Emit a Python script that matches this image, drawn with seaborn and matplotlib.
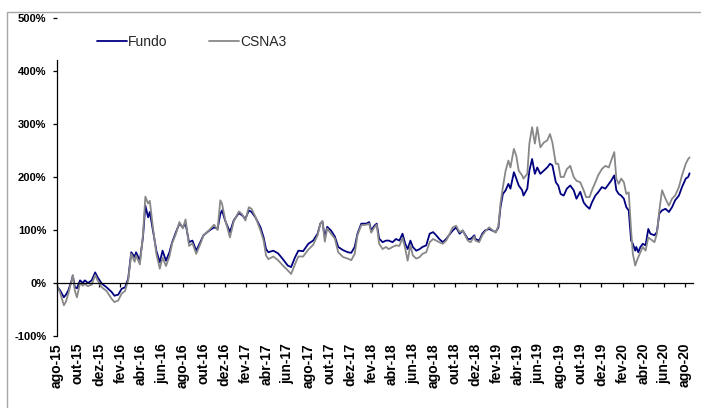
import pandas as pd
import matplotlib
matplotlib.use('Agg')
import matplotlib.pyplot as plt
import matplotlib.dates as mdates
import seaborn as sns
from matplotlib.ticker import FuncFormatter, MultipleLocator
from matplotlib.patches import Rectangle

sns.set_theme(style="ticks")
plt.rcParams['font.family'] = ['Liberation Sans', 'DejaVu Sans']
plt.rcParams['font.weight'] = 'bold'

# datas (aprox. semanal)
datas = [
    '2015-08-03', '2015-08-10', '2015-08-21', '2015-08-27', '2015-09-03', '2015-09-14', '2015-09-16', '2015-09-22', '2015-09-28', '2015-10-07',
    '2015-10-15', '2015-10-21', '2015-10-30', '2015-11-10', '2015-11-20', '2015-11-27', '2015-12-09', '2015-12-23', '2016-01-07', '2016-01-15',
    '2016-01-26', '2016-02-05', '2016-02-15', '2016-02-24', '2016-03-04', '2016-03-14', '2016-03-18', '2016-03-29', '2016-04-07', '2016-04-14',
    '2016-04-22', '2016-04-27', '2016-05-06', '2016-05-16', '2016-05-26', '2016-06-03', '2016-06-13', '2016-06-23', '2016-07-01', '2016-07-12',
    '2016-07-22', '2016-08-01', '2016-08-09', '2016-08-19', '2016-08-29', '2016-09-09', '2016-09-23', '2016-09-30', '2016-10-17', '2016-10-31',
    '2016-11-10', '2016-11-18', '2016-11-23', '2016-12-02', '2016-12-16', '2016-12-27', '2017-01-11', '2017-01-20', '2017-01-30', '2017-02-09',
    '2017-02-17', '2017-02-28', '2017-03-15', '2017-03-24', '2017-03-31', '2017-04-07', '2017-04-21', '2017-05-05', '2017-05-19', '2017-06-02',
    '2017-06-12', '2017-06-23', '2017-07-03', '2017-07-17', '2017-08-01', '2017-08-15', '2017-08-28', '2017-09-05', '2017-09-11', '2017-09-18',
    '2017-09-25', '2017-10-06', '2017-10-17', '2017-10-27', '2017-11-10', '2017-11-24', '2017-12-04', '2017-12-14', '2017-12-22', '2018-01-02',
    '2018-01-17', '2018-01-25', '2018-01-31', '2018-02-09', '2018-02-16', '2018-02-23', '2018-03-05', '2018-03-15', '2018-03-23', '2018-04-03',
    '2018-04-13', '2018-04-23', '2018-05-02', '2018-05-10', '2018-05-17', '2018-05-25', '2018-06-01', '2018-06-11', '2018-06-21', '2018-06-29',
    '2018-07-10', '2018-07-20', '2018-07-30', '2018-08-08', '2018-08-17', '2018-08-27', '2018-09-06', '2018-09-14', '2018-09-25', '2018-10-05',
    '2018-10-15', '2018-10-24', '2018-11-08', '2018-11-16', '2018-11-27', '2018-11-30', '2018-12-11', '2018-12-20', '2018-12-28', '2019-01-09',
    '2019-01-18', '2019-01-28', '2019-02-05', '2019-02-11', '2019-02-18', '2019-02-26', '2019-03-06', '2019-03-12', '2019-03-22', '2019-03-29',
    '2019-04-05', '2019-04-15', '2019-04-19', '2019-04-30', '2019-05-06', '2019-05-14', '2019-05-22', '2019-05-29', '2019-06-07', '2019-06-17',
    '2019-06-27', '2019-07-05', '2019-07-12', '2019-07-22', '2019-07-29', '2019-08-05', '2019-08-14', '2019-08-23', '2019-09-02', '2019-09-12',
    '2019-09-20', '2019-10-01', '2019-10-11', '2019-10-18', '2019-10-28', '2019-11-04', '2019-11-14', '2019-11-22', '2019-12-03', '2019-12-13',
    '2019-12-23', '2019-12-30', '2020-01-08', '2020-01-14', '2020-01-21', '2020-01-28', '2020-02-05', '2020-02-12', '2020-02-19', '2020-02-26',
    '2020-03-02', '2020-03-09', '2020-03-12', '2020-03-18', '2020-03-24', '2020-03-31', '2020-04-08', '2020-04-16', '2020-04-22', '2020-05-04',
    '2020-05-11', '2020-05-18', '2020-05-26', '2020-06-05', '2020-06-15', '2020-06-24', '2020-07-03', '2020-07-14', '2020-07-23', '2020-08-03',
    '2020-08-10', '2020-08-14',
]

# retorno acumulado (%)
fundo = [
    -8, -14, -27, -22, -14, 8, 14, -8, -10, 5,
    0, 5, 0, 5, 20, 11, -1, -8, -17, -24,
    -22, -11, -8, 8, 58, 49, 58, 42, 86, 146,
    124, 134, 99, 61, 39, 61, 42, 58, 77, 96,
    112, 105, 112, 77, 80, 61, 80, 90, 99, 105,
    102, 130, 137, 118, 96, 118, 132, 128, 121, 137,
    134, 124, 105, 86, 64, 58, 61, 56, 45, 33,
    30, 48, 61, 60, 74, 80, 93, 112, 116, 86,
    106, 99, 88, 68, 62, 58, 57, 68, 93, 112,
    112, 115, 99, 108, 112, 84, 77, 80, 80, 77,
    83, 80, 93, 74, 64, 80, 68, 61, 64, 68,
    71, 93, 96, 90, 83, 77, 83, 90, 99, 105,
    93, 99, 83, 83, 90, 83, 80, 93, 99, 102,
    99, 96, 105, 143, 168, 175, 187, 178, 209, 197,
    184, 175, 165, 178, 212, 234, 206, 218, 206, 212,
    218, 225, 222, 190, 184, 168, 165, 178, 184, 175,
    159, 172, 152, 146, 140, 152, 165, 171, 181, 178,
    187, 193, 203, 175, 168, 165, 159, 143, 137, 80,
    74, 61, 68, 58, 68, 74, 71, 102, 93, 90,
    96, 131, 137, 140, 134, 143, 156, 165, 181, 197,
    200, 207,
]

csna3 = [
    -8, -18, -42, -35, -20, 8, 15, -15, -27, 0,
    -5, -2, -6, -3, 15, 5, -8, -15, -30, -36,
    -33, -20, -15, 5, 55, 40, 52, 35, 90, 163,
    150, 155, 105, 55, 27, 48, 32, 50, 75, 93,
    115, 103, 120, 70, 75, 55, 77, 90, 100, 110,
    100, 156, 150, 120, 86, 116, 135, 130, 118, 143,
    140, 125, 99, 80, 52, 45, 50, 43, 33, 24,
    17, 35, 50, 50, 63, 72, 90, 112, 117, 78,
    103, 93, 84, 58, 49, 46, 43, 55, 90, 109,
    110, 112, 95, 105, 110, 74, 64, 68, 64, 68,
    71, 70, 85, 65, 42, 72, 52, 46, 49, 55,
    58, 77, 83, 80, 77, 74, 80, 90, 105, 108,
    96, 99, 80, 77, 88, 80, 77, 90, 97, 105,
    100, 95, 108, 150, 181, 212, 231, 218, 253, 240,
    212, 203, 197, 206, 263, 294, 263, 294, 256, 265,
    269, 281, 265, 225, 225, 200, 200, 215, 221, 200,
    193, 190, 175, 162, 162, 175, 190, 203, 215, 221,
    218, 231, 247, 197, 187, 197, 190, 168, 171, 99,
    55, 33, 39, 49, 58, 68, 61, 86, 83, 77,
    93, 137, 175, 159, 146, 159, 165, 181, 203, 225,
    234, 237,
]

series = ['Fundo', 'CSNA3']
cores = {'Fundo': '#000080', 'CSNA3': '#888888'}
meses = ['jan', 'fev', 'mar', 'abr', 'mai', 'jun', 'jul', 'ago', 'set', 'out', 'nov', 'dez']

df = pd.DataFrame({'data': pd.to_datetime(datas), 'Fundo': fundo, 'CSNA3': csna3})
long_df = df.melt(id_vars='data', var_name='serie', value_name='retorno')

fig = plt.figure(figsize=(7.01, 4.08), dpi=100)
ax = fig.add_axes([57 / 701, 1 - 336 / 408, 636 / 701, 318 / 408])

sns.lineplot(data=long_df, x='data', y='retorno', hue='serie', hue_order=series,
             palette=cores, linewidth=1.3, ax=ax)

ax.set_xlim(pd.Timestamp('2015-08-01'), pd.Timestamp('2020-08-24'))
ax.set_ylim(-100, 500)
ax.set_xlabel('')
ax.set_ylabel('')

ax.yaxis.set_major_locator(MultipleLocator(100))
ax.yaxis.set_major_formatter(FuncFormatter(lambda v, p: f'{v:.0f}%'))
ax.tick_params(axis='y', direction='out', length=3, width=0.9, color='black',
               labelsize=8, pad=4.5, labelcolor='black')

for s in ['top', 'right']:
    ax.spines[s].set_visible(False)
for s in ['left', 'bottom']:
    ax.spines[s].set_color('black')
    ax.spines[s].set_linewidth(0.9)
ax.spines['left'].set_bounds(-100, 420)
ax.spines['bottom'].set_position(('data', 0))

ax.xaxis.set_major_locator(mdates.MonthLocator(bymonth=[2, 4, 6, 8, 10, 12]))
ax.tick_params(axis='x', direction='out', length=3, width=0.9, color='black', labelbottom=False)


def fmt_mes(v, pos):
    d = mdates.num2date(v)
    return f'{meses[d.month - 1]}-{d:%y}'


# rótulos do eixo x ficam embaixo, fora da linha do zero
sec = ax.secondary_xaxis('bottom')
sec.xaxis.set_major_locator(mdates.MonthLocator(bymonth=[2, 4, 6, 8, 10, 12]))
sec.xaxis.set_major_formatter(FuncFormatter(fmt_mes))
sec.tick_params(axis='x', length=0, pad=5, labelsize=10, labelrotation=90, labelcolor='black')
sec.spines['bottom'].set_visible(False)

sns.move_legend(ax, 'center left', bbox_to_anchor=(90 / 701, 1 - 42 / 408),
                bbox_transform=fig.transFigure, ncol=2, frameon=False, title=None,
                borderpad=0, handlelength=2.15, handletextpad=0.1, columnspacing=3.0,
                prop={'size': 10, 'weight': 'normal'})

# moldura da área do gráfico
fig.add_artist(Rectangle((7 / 701, -0.5), 2, 0.5 + 1 - 12 / 408, transform=fig.transFigure,
                         fill=False, edgecolor='#a6a6a6', linewidth=1.0))

fig.savefig('out.png', dpi=100)
